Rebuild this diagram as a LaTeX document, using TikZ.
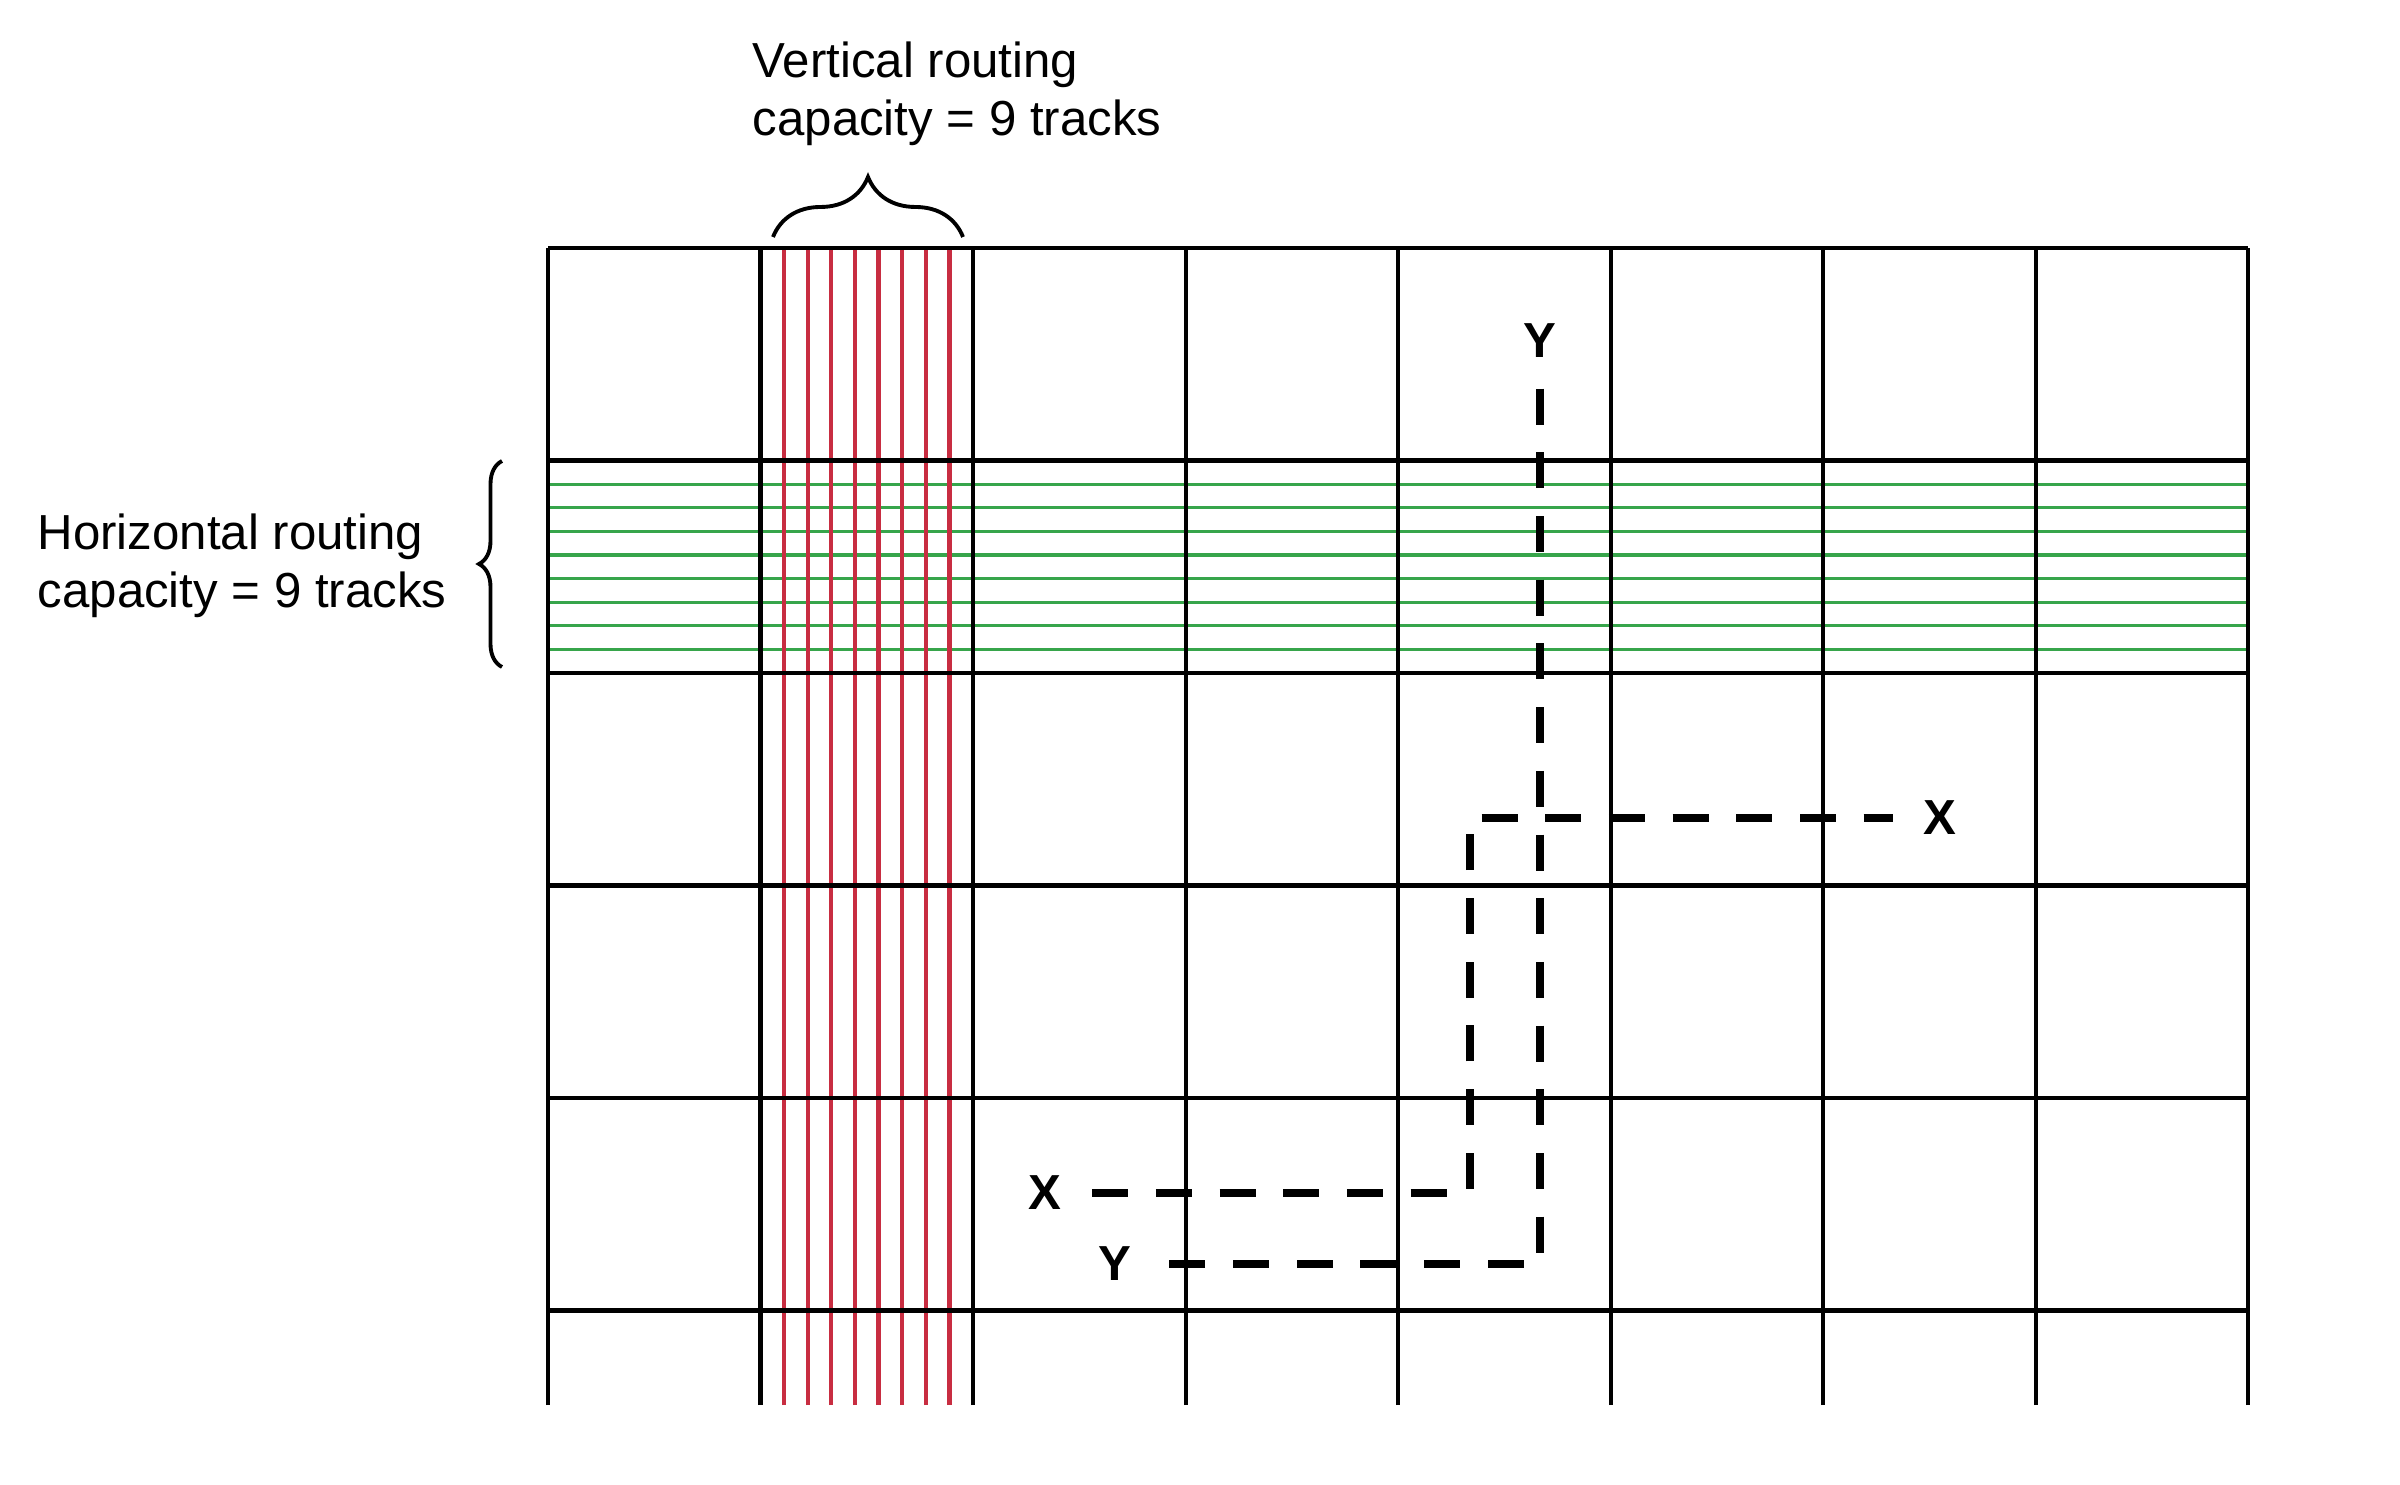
\documentclass[tikz,border=0pt]{standalone}
\usepackage{fontspec}
\setmainfont{Liberation Sans}
\usetikzlibrary{positioning,decorations.pathreplacing}
\definecolor{vtrack}{RGB}{200,45,65}
\definecolor{htrack}{RGB}{55,165,75}

\begin{document}
\begin{tikzpicture}[
    gridline/.style={line width=1.15pt,black},
    vtrackline/.style={line width=1.2pt,vtrack},
    htrackline/.style={line width=0.9pt,htrack},
    net/.style={line width=2.2pt,dash pattern=on 0.36cm off 0.277cm},
    netlabel/.style={font=\fontsize{14}{14}\selectfont\bfseries,inner sep=0.3cm},
    caption/.style={font=\fontsize{14}{16.5}\selectfont,align=left,inner sep=0pt,anchor=north west},
    bracket/.style={decorate,decoration={brace,amplitude=#1},line width=1.1pt}]
    \useasboundingbox (0,0) rectangle (24,14.84);
    % horizontal tracks in row 2
    \foreach \i in {1,...,8}
        \draw[htrackline] (5.48,{10.235-\i*0.2361}) -- (22.48,{10.235-\i*0.2361});
    % vertical tracks in column 2
    \foreach \i in {1,...,8}
        \draw[vtrackline] ({7.605+\i*0.2361},0.79) -- ({7.605+\i*0.2361},12.36);
    % routing grid
    \foreach \x in {0,...,8}
        \draw[gridline] ({5.48+\x*2.125},0.79) -- ({5.48+\x*2.125},12.36);
    \foreach \y in {0,...,5}
        \draw[gridline] (5.48,{12.36-\y*2.125}) -- (22.48,{12.36-\y*2.125});
    % capacity labels
    \node[caption] (vcap) at (7.52,14.43) {Vertical routing\\capacity = 9 tracks};
    \node[caption] (hcap) at (0.37,9.71) {Horizontal routing\\capacity = 9 tracks};
    \draw[bracket=0.6cm] (7.73,12.47) -- (9.63,12.47);
    \draw[bracket=0.23cm] (5.02,8.17) -- (5.02,10.23);
    % nets
    \node[netlabel] (ytop) at (15.40,11.43) {Y};
    \node[netlabel] (ybot) at (11.15,2.20) {Y};
    \node[netlabel] (xlft) at (10.45,2.91) {X};
    \node[netlabel] (xrgt) at (19.40,6.66) {X};
    \coordinate (xbend) at (14.70,6.66);
    \draw[net] (ytop) |- (ybot);
    \draw[net] (xlft) -| (xbend) -- (xrgt);
\end{tikzpicture}
\end{document}
